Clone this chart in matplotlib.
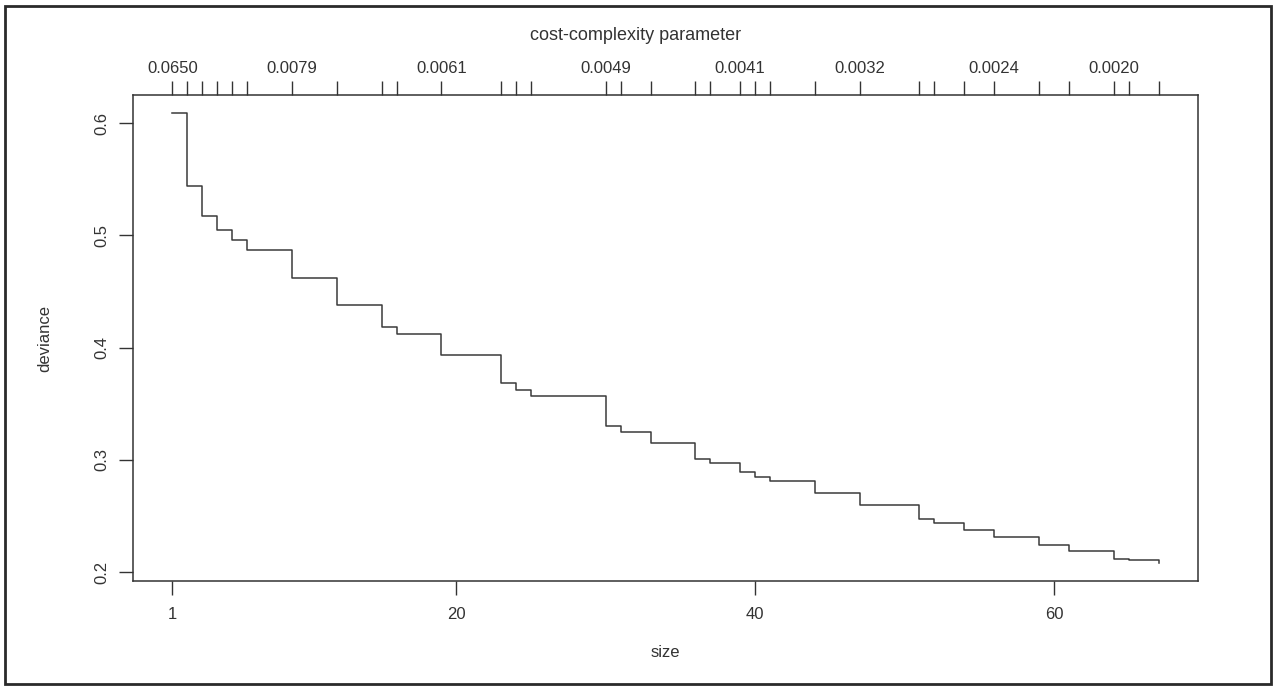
import matplotlib.pyplot as plt
from matplotlib.patches import Rectangle

# pruning sequence: tree size, deviance and cost-complexity label per size
size = [1, 2, 3, 4, 5, 6, 9, 12, 15, 16, 19, 23, 24, 25, 30, 31, 33,
        36, 37, 39, 40, 41, 44, 47, 51, 52, 54, 56, 59, 61, 64, 65, 67]
dev = [0.609, 0.544, 0.517, 0.505, 0.496, 0.487, 0.462, 0.438, 0.418, 0.412,
       0.393, 0.368, 0.362, 0.357, 0.330, 0.325, 0.315, 0.301, 0.297, 0.289,
       0.285, 0.281, 0.270, 0.260, 0.247, 0.244, 0.237, 0.231, 0.224, 0.219,
       0.212, 0.211, 0.208]
k_at = [1, 9, 19, 30, 39, 47, 56, 64]
k_labels = ["0.0650", "0.0079", "0.0061", "0.0049", "0.0041", "0.0032", "0.0024", "0.0020"]

xticks = [1, 20, 40, 60]
yticks = [0.2, 0.3, 0.4, 0.5, 0.6]

plt.rcParams['font.family'] = ['Liberation Sans', 'DejaVu Sans']
ink = "#333333"

fig = plt.figure(figsize=(12.76, 6.86), dpi=100)
ax = fig.add_axes([133/1276, 105/686, 1065/1276, 486/686])

ax.step(size, dev, where="post", color="#3a3a3a", lw=1.1)

# R style 4% padding around the data range
xr = (max(size) - min(size)) * 0.04
yr = (max(dev) - min(dev)) * 0.04
ax.set_xlim(min(size) - xr, max(size) + xr)
ax.set_ylim(min(dev) - yr, max(dev) + yr)

ax.set_xticks(xticks)
ax.set_xticklabels([str(t) for t in xticks])
ax.set_yticks(yticks)
ax.set_yticklabels([f"{t:.1f}" for t in yticks], rotation=90, va="center")
ax.tick_params(colors=ink, labelsize=12, length=10, width=1.0, pad=9)
ax.tick_params(axis="y", pad=7)
for s in ax.spines.values():
    s.set_color(ink)
    s.set_linewidth(1.1)

ax.set_xlabel("size", fontsize=12, color=ink, labelpad=16)
ax.set_ylabel("deviance", fontsize=12, color=ink, labelpad=30)

# top axis: one tick per tree size, labelled with the complexity value
top = ax.twiny()
top.set_xlim(ax.get_xlim())
top.set_xticks(size)
top.set_xticklabels([k_labels[k_at.index(s)] if s in k_at else "" for s in size])
top.tick_params(colors=ink, labelsize=12, length=10, width=1.0, pad=4)
for s in top.spines.values():
    s.set_visible(False)

fig.text(636/1276, 1 - 36/686, "cost-complexity parameter", ha="center", va="center",
         fontsize=13, color=ink)

fig.patches.append(Rectangle((5/1276, 2/686), 1266/1276, 678/686, transform=fig.transFigure,
                             fill=False, edgecolor="#2a2a2a", lw=2.0))

plt.savefig("out.png", dpi=100)
